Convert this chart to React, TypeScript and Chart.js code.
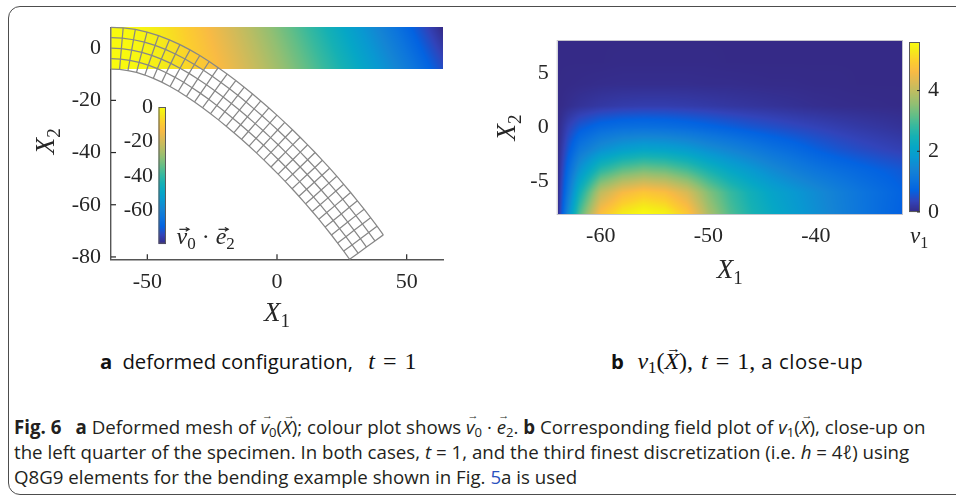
import React, { useEffect, useRef } from 'react';
import { Chart, registerables } from 'chart.js';

Chart.register(...registerables);

// ---------------- Panel a: reference mesh of the beam (h = 4) ----------------
const meshX1 = [-64, -60, -56, -52, -48, -44, -40, -36, -32, -28, -24, -20, -16, -12, -8, -4, 0, 4, 8, 12, 16, 20, 24, 28, 32, 36, 40, 44, 48, 52, 56, 60, 64];
const meshX2 = [-8, -4, 0, 4, 8];
// clockwise rotation of each cross-section of the deformed beam (degrees)
const meshRotationDeg = [0, 5, 10.3, 14.7, 19.2, 22.8, 26, 28.8, 31.2, 33.2, 34.8, 36.2, 37.4, 38.5, 39.5, 40.4, 41.3, 42.2, 43.0, 43.8, 44.6, 45.4, 46.2, 47.0, 47.8, 48.6, 49.4, 50.2, 51.0, 51.8, 52.6, 53.4, 54.2];
const xTicksA = [-50, 0, 50];
const yTicksA = [0, -20, -40, -60, -80];
const cbTicksA = [0, -20, -40, -60];

// ---------------- Panel b: field v1 on the left quarter ----------------
const fieldX1 = [-64, -63, -62, -60, -58, -56, -54, -52, -50, -48, -46, -44, -42, -40, -38, -36, -34, -32];
const fieldX2 = [8, 6, 4, 2, 0, -2, -4, -6, -8];
const v1AtX2p8 = [0, 0, 0, 0, 0, 0, 0, 0, 0, 0, 0, 0, 0, 0, 0, 0, 0, 0];
const v1AtX2p6 = [0, 0, 0, 0, 0.01, 0.01, 0.01, 0.01, 0.01, 0, 0, 0, 0, 0, 0, 0, 0, 0];
const v1AtX2p4 = [0, 0.01, 0.02, 0.04, 0.05, 0.05, 0.05, 0.05, 0.04, 0.04, 0.03, 0.02, 0.02, 0.01, 0.01, 0, 0, 0];
const v1AtX2p2 = [0, 0.06, 0.12, 0.2, 0.25, 0.27, 0.27, 0.25, 0.22, 0.18, 0.15, 0.12, 0.09, 0.06, 0.04, 0.03, 0.02, 0.01];
const v1AtX2z0 = [0, 0.35, 0.6, 0.85, 0.95, 0.98, 0.95, 0.88, 0.78, 0.68, 0.58, 0.5, 0.42, 0.35, 0.28, 0.22, 0.17, 0.12];
const v1AtX2m2 = [0, 0.6, 1.1, 1.6, 1.9, 2.05, 2.0, 1.85, 1.6, 1.4, 1.2, 1.0, 0.85, 0.68, 0.55, 0.45, 0.37, 0.3];
const v1AtX2m4 = [0, 0.9, 1.7, 2.75, 3.2, 3.4, 3.3, 3.0, 2.55, 2.15, 1.85, 1.55, 1.3, 1.1, 0.95, 0.82, 0.7, 0.6];
const v1AtX2m6 = [0, 1.2, 2.4, 4.0, 4.6, 4.85, 4.7, 4.25, 3.45, 2.85, 2.4, 2.05, 1.8, 1.55, 1.3, 1.08, 0.9, 0.72];
const v1AtX2m8 = [0, 1.6, 3.0, 4.75, 5.35, 5.6, 5.45, 4.9, 3.8, 3.05, 2.55, 2.2, 1.9, 1.62, 1.35, 1.1, 0.88, 0.68];
const xTicksB = [-60, -50, -40];
const yTicksB = [-5, 0, 5];
const cbTicksB = [0, 2, 4];

// ---------------- styles ----------------
const SERIF = '"Liberation Serif", "DejaVu Serif", serif';
const AXIS_COLOR = '#262626';
const MESH_COLOR = '#878787';
const TICK_FONT = { family: SERIF, size: 22 };

// MATLAB parula colormap stops [t, r, g, b]
const PARULA: number[][] = [
  [0 / 63, 0.2081, 0.1663, 0.5292],
  [4 / 63, 0.1959, 0.2645, 0.7279],
  [8 / 63, 0.0117, 0.3875, 0.8820],
  [12 / 63, 0.0498, 0.4586, 0.8641],
  [16 / 63, 0.0793, 0.5200, 0.8312],
  [20 / 63, 0.0343, 0.5966, 0.8199],
  [24 / 63, 0.0228, 0.6535, 0.7768],
  [28 / 63, 0.0843, 0.6928, 0.7062],
  [32 / 63, 0.2178, 0.7250, 0.6193],
  [36 / 63, 0.3953, 0.7459, 0.5244],
  [40 / 63, 0.5709, 0.7485, 0.4494],
  [44 / 63, 0.7184, 0.7411, 0.3905],
  [48 / 63, 0.8507, 0.7299, 0.3360],
  [52 / 63, 0.9739, 0.7314, 0.2666],
  [56 / 63, 0.9880, 0.8066, 0.1794],
  [60 / 63, 0.9599, 0.9218, 0.0948],
  [63 / 63, 0.9763, 0.9831, 0.0538],
];

function parula(t: number): number[] {
  const v = Math.min(1, Math.max(0, t));
  for (let k = 0; k < PARULA.length - 1; k++) {
    const a = PARULA[k], b = PARULA[k + 1];
    if (v >= a[0] && v <= b[0]) {
      const f = (v - a[0]) / (b[0] - a[0] || 1);
      return [1, 2, 3].map((c) => Math.round(255 * (a[c] + (b[c] - a[c]) * f)));
    }
  }
  const l = PARULA[PARULA.length - 1];
  return [l[1], l[2], l[3]].map((c) => Math.round(255 * c));
}

function seg(arr: number[], v: number): [number, number] {
  for (let i = 0; i < arr.length - 1; i++) {
    const a = arr[i], b = arr[i + 1];
    if ((v - a) * (v - b) <= 0) return [i, (v - a) / (b - a)];
  }
  return Math.abs(v - arr[0]) < Math.abs(v - arr[arr.length - 1]) ? [0, 0] : [arr.length - 2, 1];
}

function bilinear(xs: number[], ys: number[], g: number[][], x: number, y: number) {
  const [i, fx] = seg(xs, x);
  const [j, fy] = seg(ys, y);
  const a = g[j][i], b = g[j][i + 1], c = g[j + 1][i], d = g[j + 1][i + 1];
  return a * (1 - fx) * (1 - fy) + b * fx * (1 - fy) + c * (1 - fx) * fy + d * fx * fy;
}

function fieldImage(w: number, h: number, xs: number[], ys: number[], g: number[][],
  x0: number, x1: number, yTop: number, yBot: number, vmin: number, vmax: number) {
  const c = document.createElement('canvas');
  c.width = Math.max(1, w); c.height = Math.max(1, h);
  const cx = c.getContext('2d')!;
  const img = cx.createImageData(c.width, c.height);
  for (let py = 0; py < c.height; py++) {
    const Y = yTop + ((py + 0.5) / c.height) * (yBot - yTop);
    for (let px = 0; px < c.width; px++) {
      const X = x0 + ((px + 0.5) / c.width) * (x1 - x0);
      const v = bilinear(xs, ys, g, X, Y);
      const col = parula((v - vmin) / (vmax - vmin));
      const o = (py * c.width + px) * 4;
      img.data[o] = col[0]; img.data[o + 1] = col[1]; img.data[o + 2] = col[2]; img.data[o + 3] = 255;
    }
  }
  cx.putImageData(img, 0, 0);
  return c;
}

// deformed node positions built from the section rotations (inextensible centre line)
function buildMesh() {
  const cxs = [meshX1[0]], cys = [0];
  for (let i = 1; i < meshX1.length; i++) {
    const ds = meshX1[i] - meshX1[i - 1];
    const a = ((meshRotationDeg[i] + meshRotationDeg[i - 1]) / 2) * Math.PI / 180;
    cxs.push(cxs[i - 1] + ds * Math.cos(a));
    cys.push(cys[i - 1] - ds * Math.sin(a));
  }
  return meshX1.map((_, i) => {
    const t = meshRotationDeg[i] * Math.PI / 180;
    return meshX2.map((X2) => ({ x: cxs[i] + X2 * Math.sin(t), y: cys[i] + X2 * Math.cos(t) }));
  });
}

type Part = { t: string; it?: boolean; sub?: boolean; vec?: boolean };

function drawMath(ctx: CanvasRenderingContext2D, parts: Part[], x: number, y: number, size: number, align: 'left' | 'center') {
  const fontOf = (p: Part) => `${p.it ? 'italic ' : ''}${p.sub ? Math.round(size * 0.7) : size}px ${SERIF}`;
  let total = 0;
  const ws = parts.map((p) => { ctx.font = fontOf(p); const w = ctx.measureText(p.t).width; total += w; return w; });
  let cx = align === 'center' ? x - total / 2 : x;
  ctx.textAlign = 'left';
  ctx.textBaseline = 'alphabetic';
  parts.forEach((p, k) => {
    ctx.font = fontOf(p);
    ctx.fillText(p.t, cx, y + (p.sub ? size * 0.22 : 0));
    if (p.vec) {
      const upper = p.t.toUpperCase() === p.t;
      const ay = y - size * (upper ? 0.86 : 0.62);
      const x0 = cx + size * 0.12, x1 = cx + ws[k] + size * 0.08;
      ctx.save();
      ctx.strokeStyle = ctx.fillStyle as string;
      ctx.lineWidth = Math.max(1, size * 0.05);
      ctx.beginPath(); ctx.moveTo(x0, ay); ctx.lineTo(x1, ay); ctx.stroke();
      ctx.beginPath(); ctx.moveTo(x1 - size * 0.14, ay - size * 0.08); ctx.lineTo(x1, ay); ctx.lineTo(x1 - size * 0.14, ay + size * 0.08); ctx.stroke();
      ctx.restore();
    }
    cx += ws[k];
  });
}

function drawColorbar(ctx: CanvasRenderingContext2D, l: number, t: number, w: number, h: number) {
  for (let py = 0; py < h; py++) {
    const col = parula(1 - (py + 0.5) / h);
    ctx.fillStyle = `rgb(${col[0]},${col[1]},${col[2]})`;
    ctx.fillRect(l, t + py, w, 1.05);
  }
  ctx.strokeStyle = '#5a5a5a';
  ctx.lineWidth = 1;
  ctx.strokeRect(l + 0.5, t + 0.5, w - 1, h - 1);
}

const meshNodes = buildMesh();
const u2Grid = meshX2.map((X2, j) => meshX1.map((_, i) => meshNodes[i][j].y - X2));
const u2Values = u2Grid.flat();
const u2Min = Math.min(...u2Values);
const u2Max = Math.max(...u2Values);
const allNodeY = meshNodes.flat().map((p) => p.y);
const yMinA = Math.min(...allNodeY, ...meshX2);
const yMaxA = Math.max(...allNodeY, ...meshX2);

const v1Grid = [v1AtX2p8, v1AtX2p6, v1AtX2p4, v1AtX2p2, v1AtX2z0, v1AtX2m2, v1AtX2m4, v1AtX2m6, v1AtX2m8];
const v1Max = Math.max(...v1Grid.flat());
const v1Min = 0;

function axisCommon(tickArr: number[], pad: number) {
  return {
    type: 'linear' as const,
    afterBuildTicks: (s: any) => { s.ticks = tickArr.map((v) => ({ value: v })); },
    grid: { display: false, drawTicks: false },
    ticks: { font: TICK_FONT, color: AXIS_COLOR, padding: pad, autoSkip: false, maxRotation: 0, minRotation: 0 },
  };
}

const panelAPlugin = {
  id: 'panelA',
  beforeDatasetsDraw(chart: any) {
    const { ctx, chartArea: ca, scales } = chart;
    const x = scales.x, y = scales.y;
    ctx.save();
    ctx.strokeStyle = AXIS_COLOR;
    ctx.lineWidth = 1.2;
    xTicksA.forEach((v) => { const px = x.getPixelForValue(v); ctx.beginPath(); ctx.moveTo(px, ca.bottom); ctx.lineTo(px, ca.bottom - 5); ctx.stroke(); });
    yTicksA.forEach((v) => { const py = y.getPixelForValue(v); if (py < ca.top || py > ca.bottom) return; ctx.beginPath(); ctx.moveTo(ca.left, py); ctx.lineTo(ca.left + 5, py); ctx.stroke(); });
    const l = x.getPixelForValue(meshX1[0]), r = x.getPixelForValue(meshX1[meshX1.length - 1]);
    const t = y.getPixelForValue(meshX2[meshX2.length - 1]), b = y.getPixelForValue(meshX2[0]);
    const img = fieldImage(Math.round(r - l), Math.round(b - t), meshX1, meshX2, u2Grid,
      meshX1[0], meshX1[meshX1.length - 1], meshX2[meshX2.length - 1], meshX2[0], u2Min, u2Max);
    ctx.drawImage(img, l, t, r - l, b - t);
    ctx.restore();
  },
  afterDraw(chart: any) {
    const { ctx, chartArea: ca } = chart;
    ctx.save();
    // colour bar
    const cbL = ca.left + 47.5, cbT = ca.top + 79.7, cbW = 7.5, cbH = (ca.bottom - 15.6) - cbT;
    drawColorbar(ctx, cbL, cbT, cbW, cbH);
    ctx.fillStyle = AXIS_COLOR;
    ctx.font = `${TICK_FONT.size}px ${SERIF}`;
    ctx.textAlign = 'right';
    ctx.textBaseline = 'middle';
    cbTicksA.forEach((v) => {
      const py = cbT + ((u2Max - v) / (u2Max - u2Min)) * cbH;
      ctx.fillText(String(v), cbL - 5.5, py);
    });
    drawMath(ctx, [{ t: 'v', it: true, vec: true }, { t: '0', sub: true }, { t: ' · ' }, { t: 'e', it: true, vec: true }, { t: '2', sub: true }],
      cbL + 18, cbT + cbH + 0.5, 24, 'left');
    // axis titles
    drawMath(ctx, [{ t: 'X', it: true }, { t: '1', sub: true }], (ca.left + ca.right) / 2, ca.bottom + 62, 27, 'center');
    ctx.translate(ca.left - 66, (ca.top + ca.bottom) / 2 - 2);
    ctx.rotate(-Math.PI / 2);
    drawMath(ctx, [{ t: 'X', it: true }, { t: '2', sub: true }], 0, 9, 27, 'center');
    ctx.restore();
  },
};

const panelBPlugin = {
  id: 'panelB',
  beforeDatasetsDraw(chart: any) {
    const { ctx, chartArea: ca, scales } = chart;
    const x = scales.x, y = scales.y;
    const l = x.getPixelForValue(fieldX1[0]), r = x.getPixelForValue(fieldX1[fieldX1.length - 1]);
    const t = y.getPixelForValue(fieldX2[0]), b = y.getPixelForValue(fieldX2[fieldX2.length - 1]);
    const img = fieldImage(Math.round(r - l), Math.round(b - t), fieldX1, fieldX2, v1Grid,
      fieldX1[0], fieldX1[fieldX1.length - 1], fieldX2[0], fieldX2[fieldX2.length - 1], v1Min, v1Max);
    ctx.save();
    ctx.drawImage(img, l, t, r - l, b - t);
    ctx.strokeStyle = '#c4c4cc';
    ctx.lineWidth = 1;
    ctx.strokeRect(ca.left - 0.5, ca.top - 0.5, ca.right - ca.left + 1, ca.bottom - ca.top + 1);
    ctx.restore();
  },
  afterDraw(chart: any) {
    const { ctx, chartArea: ca } = chart;
    ctx.save();
    const cbL = ca.right + 7, cbT = ca.top + 1, cbW = 11, cbH = (ca.bottom - 2) - cbT;
    drawColorbar(ctx, cbL, cbT, cbW, cbH);
    ctx.strokeStyle = AXIS_COLOR;
    ctx.fillStyle = AXIS_COLOR;
    ctx.font = `${TICK_FONT.size}px ${SERIF}`;
    ctx.textAlign = 'left';
    ctx.textBaseline = 'middle';
    cbTicksB.forEach((v) => {
      const py = cbT + ((v1Max - v) / (v1Max - v1Min)) * cbH;
      ctx.beginPath(); ctx.moveTo(cbL + cbW, py); ctx.lineTo(cbL + cbW - 3, py); ctx.stroke();
      ctx.fillText(String(v), cbL + cbW + 8, py);
    });
    drawMath(ctx, [{ t: 'v', it: true }, { t: '1', sub: true }], cbL + 1, ca.bottom + 29, 23, 'left');
    drawMath(ctx, [{ t: 'X', it: true }, { t: '1', sub: true }], (ca.left + ca.right) / 2, ca.bottom + 64, 27, 'center');
    ctx.translate(ca.left - 52, (ca.top + ca.bottom) / 2);
    ctx.rotate(-Math.PI / 2);
    drawMath(ctx, [{ t: 'X', it: true }, { t: '2', sub: true }], 0, 9, 27, 'center');
    ctx.restore();
  },
};

function configA(): any {
  const line = { showLine: true, borderColor: MESH_COLOR, borderWidth: 1.25, pointRadius: 0, fill: false, clip: false, tension: 0 };
  const datasets: any[] = [];
  meshX2.forEach((_, j) => datasets.push({ ...line, data: meshNodes.map((col) => col[j]) }));
  meshX1.forEach((_, i) => datasets.push({ ...line, data: meshNodes[i] }));
  return {
    type: 'scatter',
    data: { datasets },
    options: {
      animation: false,
      responsive: false,
      events: [],
      layout: { padding: { left: 0, top: 27.3, right: 37, bottom: 0 } },
      plugins: { legend: { display: false }, tooltip: { enabled: false } },
      scales: {
        x: { ...axisCommon(xTicksA, 10), min: meshX1[0], max: meshX1[meshX1.length - 1],
          afterFit: (s: any) => { s.height = 80.7; }, border: { display: true, color: '#555555', width: 1.4 } },
        y: { ...axisCommon(yTicksA, 10), min: yMinA, max: yMaxA,
          afterFit: (s: any) => { s.width = 111; }, border: { display: true, color: '#555555', width: 1.4 } },
      },
    },
    plugins: [panelAPlugin],
  };
}

function configB(): any {
  return {
    type: 'scatter',
    data: { datasets: [] },
    options: {
      animation: false,
      responsive: false,
      events: [],
      layout: { padding: { left: 0, top: 41, right: 54, bottom: 0 } },
      plugins: { legend: { display: false }, tooltip: { enabled: false } },
      scales: {
        x: { ...axisCommon(xTicksB, 9.5), min: fieldX1[0], max: fieldX1[fieldX1.length - 1],
          afterFit: (s: any) => { s.height = 86; }, border: { display: false } },
        y: { ...axisCommon(yTicksB, 9), min: fieldX2[fieldX2.length - 1], max: fieldX2[0],
          afterFit: (s: any) => { s.width = 77.7; }, border: { display: false } },
      },
    },
    plugins: [panelBPlugin],
  };
}

const Vec = ({ children, serif }: { children: React.ReactNode; serif?: boolean }) => (
  <span style={{ position: 'relative', display: 'inline-block', fontStyle: 'italic', fontFamily: serif ? SERIF : undefined }}>
    {children}
    <span style={{ position: 'absolute', left: '0.12em', right: '-0.1em', top: '-0.52em', textAlign: 'center', fontSize: '0.6em', fontStyle: 'normal', lineHeight: 1 }}>→</span>
  </span>
);

const Sub = ({ children }: { children: React.ReactNode }) => (
  <span style={{ fontSize: '0.7em', position: 'relative', top: '0.25em', fontStyle: 'normal' }}>{children}</span>
);

const CAP_FONT = '"Open Sans", "Noto Sans", sans-serif';
const LABEL_FONT = '"Open Sans", "Noto Sans", sans-serif';

export default function App() {
  const refA = useRef<HTMLCanvasElement>(null);
  const refB = useRef<HTMLCanvasElement>(null);
  useEffect(() => {
    const a = new Chart(refA.current!, configA());
    const b = new Chart(refB.current!, configB());
    return () => { a.destroy(); b.destroy(); };
  }, []);

  const capLine: React.CSSProperties = {
    position: 'absolute', left: 14, whiteSpace: 'nowrap', fontFamily: CAP_FONT, fontSize: 18.7,
    lineHeight: '24px', color: '#231f20',
  };
  const label: React.CSSProperties = {
    position: 'absolute', top: 348, whiteSpace: 'nowrap', fontFamily: LABEL_FONT, fontSize: 20.3,
    lineHeight: '26px', color: '#111',
  };
  const serif: React.CSSProperties = { fontFamily: SERIF, fontSize: 24 };

  return (
    <div style={{ position: 'fixed', left: 0, top: 0, width: 956, height: 499, overflow: 'hidden', background: '#ffffff' }}>
      <div style={{ position: 'absolute', left: 8, top: 6, width: 1000, height: 489, border: '1.3px solid #4d4d4d', borderRadius: 12, boxSizing: 'border-box' }} />
      <canvas ref={refA} width={480} height={340} style={{ position: 'absolute', left: 0, top: 0, width: 480, height: 340 }} />
      <canvas ref={refB} width={476} height={300} style={{ position: 'absolute', left: 480, top: 0, width: 476, height: 300 }} />

      <div style={{ ...label, left: 100 }}>
        <b>a</b>&ensp;deformed configuration,&ensp; <span style={serif}><i>t</i>&#8196;=&#8196;1</span>
      </div>
      <div style={{ ...label, left: 611 }}>
        <b>b</b>&ensp;&#8198;<span style={serif}><i>v</i><Sub>1</Sub>(<Vec serif>X</Vec>),&#8196;<i>t</i>&#8196;=&#8196;1,</span><span style={{ letterSpacing: '0.6px' }}> a close-up</span>
      </div>

      <div style={{ ...capLine, top: 415 }}>
        <b>Fig. 6</b>&ensp; <b>a</b> Deformed mesh of <Vec>v</Vec><Sub>0</Sub>(<Vec>X</Vec>); colour plot shows <Vec>v</Vec><Sub>0</Sub> · <Vec>e</Vec><Sub>2</Sub>. <b>b</b> Corresponding field plot of <i>v</i><Sub>1</Sub>(<Vec>X</Vec>), close-up on
      </div>
      <div style={{ ...capLine, top: 440 }}>
        the left quarter of the specimen. In both cases, <i>t</i> = 1, and the third finest discretization (i.e. <i>h</i> = 4<i>ℓ</i>) using
      </div>
      <div style={{ ...capLine, top: 465 }}>
        Q8G9 elements for the bending example shown in Fig. <span style={{ color: '#2a52be' }}>5</span>a is used
      </div>
    </div>
  );
}
